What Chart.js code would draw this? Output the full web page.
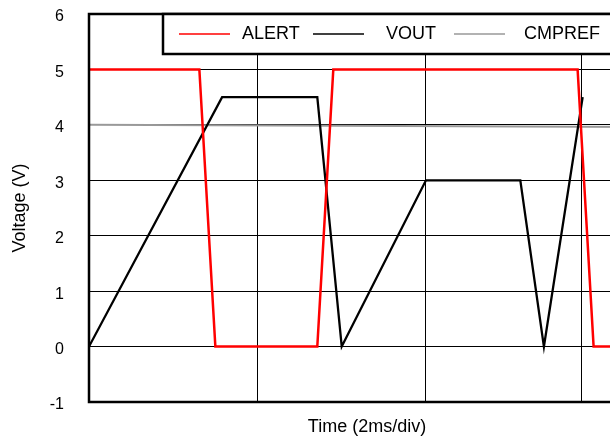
<!DOCTYPE html>
<html>
<head>
<meta charset="utf-8">
<script src="https://cdn.jsdelivr.net/npm/chart.js@4/dist/chart.umd.min.js"></script>
<style>
    html, body { margin: 0; padding: 0; background: #fff; overflow: hidden; }
    #clip { width: 610px; height: 440px; overflow: hidden; }
    #chartBox { width: 680px; height: 440px; }
</style>
</head>
<body>
<div id="clip">
    <div id="chartBox"><canvas id="voltageChart"></canvas></div>
</div>
<script>
// time in ms, 2ms per division
const gridTimes = [0, 2, 4, 5.85];
const alertTime = [0, 1.31, 1.50, 2.71, 2.90, 5.80, 5.99, 6.6];
const alertVolt = [5, 5, 0, 0, 5, 5, 0, 0];
const voutTime = [0, 1.58, 2.71, 3.00, 4.00, 5.12, 5.40, 5.86];
const voutVolt = [0, 4.5, 4.5, 0, 3, 3, 0, 4.5];
const cmprefTime = [0, 6.6];
const cmprefVolt = [4.0, 3.96];
const seriesNames = ["ALERT", "VOUT", "CMPREF"];

const fontName = "'Liberation Sans', Arial, sans-serif";

function toPoints(times, volts) {
    return times.map((t, i) => ({ x: t, y: volts[i] }));
}

const frameAndLegend = {
    id: 'frameAndLegend',
    afterDatasetsDraw(chart) {
        const ctx = chart.ctx;
        const area = chart.chartArea;
        ctx.save();
        ctx.strokeStyle = '#000';
        ctx.lineWidth = 2.5;
        ctx.strokeRect(area.left, area.top, area.right - area.left, area.bottom - area.top);

        // legend box sitting on the top edge of the plot
        const boxLeft = 163, boxBottom = 54;
        ctx.fillStyle = '#fff';
        ctx.fillRect(boxLeft, area.top, area.right - boxLeft, boxBottom - area.top);
        ctx.strokeRect(boxLeft, area.top, area.right - boxLeft, boxBottom - area.top);

        const lineStarts = [179, 313, 454];
        const textOffsets = [63, 73, 70];
        const y = 34;
        ctx.font = '18px ' + fontName;
        ctx.textBaseline = 'middle';
        ctx.textAlign = 'left';
        chart.data.datasets.forEach((ds, i) => {
            ctx.strokeStyle = ds.borderColor;
            ctx.lineWidth = 1.5;
            ctx.beginPath();
            ctx.moveTo(lineStarts[i], y);
            ctx.lineTo(lineStarts[i] + 51, y);
            ctx.stroke();
            ctx.fillStyle = '#000';
            ctx.fillText(ds.label, lineStarts[i] + textOffsets[i], y);
        });
        ctx.restore();
    }
};

new Chart(document.getElementById('voltageChart').getContext('2d'), {
    type: 'line',
    data: {
        datasets: [{
            label: seriesNames[0],
            data: toPoints(alertTime, alertVolt),
            borderColor: '#ff0000',
            borderWidth: 2.5
        }, {
            label: seriesNames[1],
            data: toPoints(voutTime, voutVolt),
            borderColor: '#000000',
            borderWidth: 2.3
        }, {
            label: seriesNames[2],
            data: toPoints(cmprefTime, cmprefVolt),
            borderColor: '#999999',
            borderWidth: 2
        }]
    },
    options: {
        responsive: true,
        maintainAspectRatio: false,
        animation: false,
        elements: {
            point: { radius: 0 },
            line: { tension: 0 }
        },
        layout: {
            padding: { top: 14, right: 35, left: 0, bottom: 0 }
        },
        plugins: {
            legend: { display: false },
            tooltip: { enabled: false }
        },
        scales: {
            x: {
                type: 'linear',
                min: 0,
                max: 6.6,
                afterBuildTicks: function(scale) {
                    scale.ticks = gridTimes.map(v => ({ value: v }));
                },
                afterFit: function(scale) {
                    scale.height = 38;
                },
                ticks: { display: false },
                grid: {
                    color: '#000',
                    lineWidth: 1,
                    drawTicks: false
                },
                border: { display: false },
                title: {
                    display: true,
                    text: 'Time (2ms/div)',
                    color: '#000',
                    font: { family: fontName, size: 18 },
                    padding: { top: 0, bottom: 2 }
                }
            },
            y: {
                min: -1,
                max: 6,
                afterFit: function(scale) {
                    scale.width = 89;
                },
                ticks: {
                    stepSize: 1,
                    color: '#000',
                    padding: 0,
                    labelOffset: 3,
                    font: { family: fontName, size: 16 }
                },
                grid: {
                    color: '#000',
                    lineWidth: 1,
                    drawTicks: true,
                    tickLength: 25,
                    tickColor: 'rgba(0,0,0,0)'
                },
                border: { display: false },
                title: {
                    display: true,
                    text: 'Voltage (V)',
                    color: '#000',
                    font: { family: fontName, size: 18 },
                    padding: { top: 9, bottom: 0 }
                }
            }
        }
    },
    plugins: [frameAndLegend]
});
</script>
</body>
</html>
